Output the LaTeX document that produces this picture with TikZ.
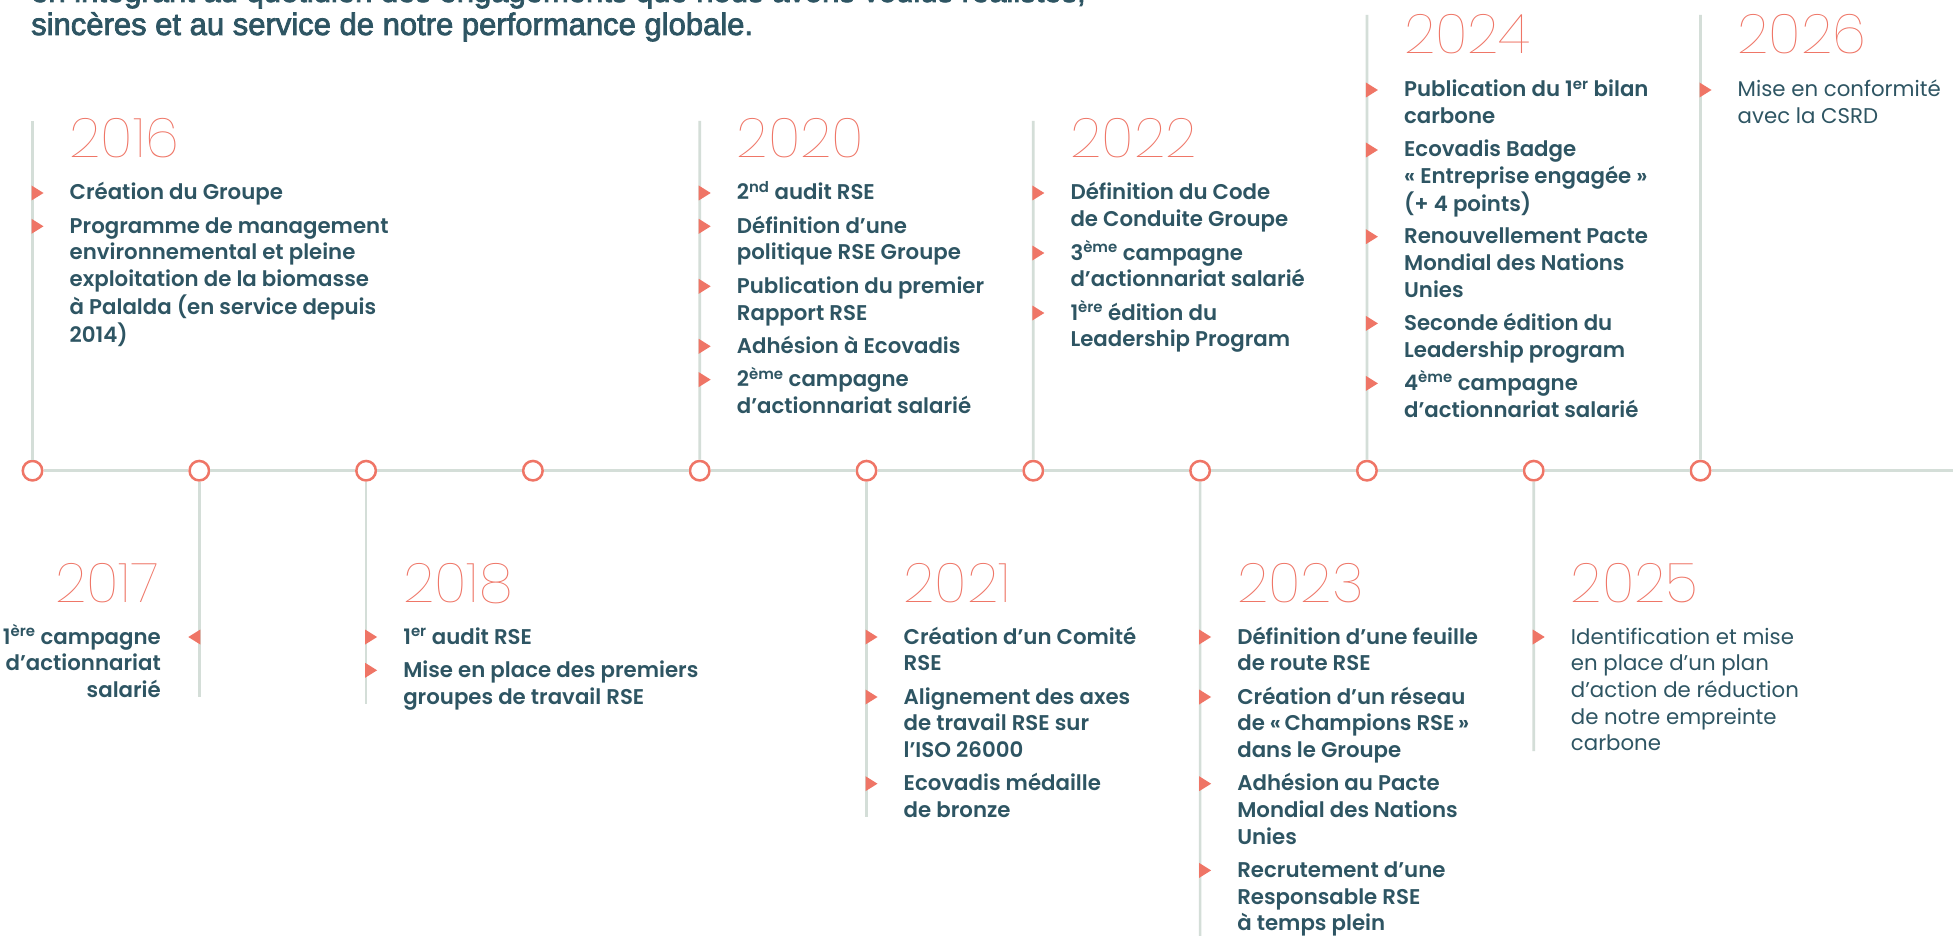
\documentclass[tikz,border=0pt]{standalone}
\usepackage{fontspec}
\newfontfamily\bodyfont{Poppins SemiBold}
\newfontfamily\regfont{Poppins}
\newfontfamily\yearfont{Poppins Thin}
\newfontfamily\headfont[FakeBold=2.5]{Liberation Sans}
\definecolor{coral}{RGB}{239,117,102}
\definecolor{ink}{RGB}{46,85,99}
\definecolor{railc}{RGB}{212,222,216}
\newcommand\lns[1]{\begin{tabular}[t]{@{}l@{}}#1\end{tabular}}
\newcommand\lnsr[1]{\begin{tabular}[t]{@{}r@{}}#1\end{tabular}}
\newcommand\sps[1]{\textsuperscript{#1}}
\tikzset{
  body/.style={font=\bodyfont\fontsize{21.3}{26.7}\selectfont, text=ink, inner sep=0pt, anchor=base west},
  bodyr/.style={body, anchor=base east},
  reg/.style={body, font=\regfont\fontsize{21.3}{26.7}\selectfont},
  yr/.style={font=\yearfont\fontsize{55}{60}\selectfont, text=coral, inner sep=0pt, anchor=base west},
  yrr/.style={yr, anchor=base east},
  head/.style={font=\headfont\fontsize{31}{36}\selectfont, text=ink, inner sep=0pt, anchor=base west},
  dot/.style={circle, draw=coral, line width=2.5pt, fill=white, minimum size=19.5pt, inner sep=0pt},
  rail/.style={draw=railc, line width=2.7pt},
  mk/.pic={\fill[coral] (-1,-7.5) -- (11,0) -- (-1,7.5) -- cycle;},
  mkl/.pic={\fill[coral] (1,-7.5) -- (-11,0) -- (1,7.5) -- cycle;},
}
\begin{document}
\begin{tikzpicture}[x=1pt,y=-1pt]
\useasboundingbox (0,0) rectangle (1953,936);
\clip (0,0) rectangle (1953,936);
\fill[white] (0,0) rectangle (1953,936);

% header
\node[head] (h1) at (31,2) {en intégrant au quotidien des engagements que nous avons voulus réalistes,};
\node[head] (h2) at (31,35) {sincères et au service de notre performance globale.};

% circles
\foreach \i in {0,...,10} {
  \node[dot] (c\i) at (32.5+166.8*\i,470.7) {};
}
\coordinate (rend) at (1953,470.7);
\draw[rail] (c0) -- (c1) -- (c2) -- (c3) -- (c4) -- (c5) -- (c6) -- (c7) -- (c8) -- (c9) -- (c10) -- (rend);

% vertical rails
\coordinate (t16) at (32.5,121);
\coordinate (t20) at (699.7,121);
\coordinate (t22) at (1033.3,121);
\coordinate (t24) at (1366.9,15);
\coordinate (t26) at (1700.5,15);
\coordinate (b17) at (199.3,697);
\coordinate (b18) at (366.1,704);
\coordinate (b21) at (866.5,817);
\coordinate (b23) at (1200.1,936);
\coordinate (b25) at (1533.7,751);
\draw[rail] (c0) -- (t16);
\draw[rail] (c4) -- (t20);
\draw[rail] (c6) -- (t22);
\draw[rail] (c8) -- (t24);
\draw[rail] (c10) -- (t26);
\draw[rail] (c1) -- (b17);
\draw[rail] (c2) -- (b18);
\draw[rail] (c5) -- (b21);
\draw[rail] (c7) -- (b23);
\draw[rail] (c9) -- (b25);

% 2016
\node[yr] (y16) at (69.5,158) {2016};
\node[body] (a16) at (69.5,200) {\lns{Création du Groupe}};
\node[body] (b16) at (69.5,233.3) {\lns{Programme de management\\environnemental et pleine\\exploitation de la biomasse\\à Palalda (en service depuis\\2014)}};
\pic at (32.5,193) {mk};
\pic at (32.5,226.3) {mk};

% 2020
\node[yr] (y20) at (736.7,158) {2020};
\node[body] (a20) at (736.7,200) {\lns{2\sps{nd} audit RSE}};
\node[body] (b20) at (736.7,233.3) {\lns{Définition d’une\\politique RSE Groupe}};
\node[body] (c20) at (736.7,293.3) {\lns{Publication du premier\\Rapport RSE}};
\node[body] (d20) at (736.7,353.3) {\lns{Adhésion à Ecovadis}};
\node[body] (e20) at (736.7,386.6) {\lns{2\sps{ème} campagne\\d’actionnariat salarié}};
\foreach \y in {200,233.3,293.3,353.3,386.6} {\pic at (699.7,\y-7) {mk};}

% 2022
\node[yr] (y22) at (1070.3,158) {2022};
\node[body] (a22) at (1070.3,200) {\lns{Définition du Code\\de Conduite Groupe}};
\node[body] (b22) at (1070.3,260) {\lns{3\sps{ème} campagne\\d’actionnariat salarié}};
\node[body] (c22) at (1070.3,320) {\lns{1\sps{ère} édition du\\Leadership Program}};
\foreach \y in {200,260,320} {\pic at (1033.3,\y-7) {mk};}

% 2024
\node[yr] (y24) at (1403.9,54) {2024};
\node[body] (a24) at (1403.9,97) {\lns{Publication du 1\sps{er} bilan\\carbone}};
\node[body] (b24) at (1403.9,157) {\lns{Ecovadis Badge\\« Entreprise engagée »\\(+ 4 points)}};
\node[body] (c24) at (1403.9,243.7) {\lns{Renouvellement Pacte\\Mondial des Nations\\Unies}};
\node[body] (d24) at (1403.9,330.4) {\lns{Seconde édition du\\Leadership program}};
\node[body] (e24) at (1403.9,390.4) {\lns{4\sps{ème} campagne\\d’actionnariat salarié}};
\foreach \y in {97,157,243.7,330.4,390.4} {\pic at (1366.9,\y-7) {mk};}

% 2026
\node[yr] (y26) at (1737.5,54) {2026};
\node[reg] (a26) at (1737.5,97) {\lns{Mise en conformité\\avec la CSRD}};
\pic at (1700.5,90) {mk};

% 2017
\node[yrr] (y17) at (159,602) {2017};
\node[bodyr] (a17) at (161,644) {\lnsr{1\sps{ère} campagne\\d’actionnariat\\salarié}};
\pic at (199.3,637) {mkl};

% 2018
\node[yr] (y18) at (403.1,602) {2018};
\node[body] (a18) at (403.1,644) {\lns{1\sps{er} audit RSE}};
\node[body] (b18n) at (403.1,677.3) {\lns{Mise en place des premiers\\groupes de travail RSE}};
\foreach \y in {644,677.3} {\pic at (366.1,\y-7) {mk};}

% 2021
\node[yr] (y21) at (903.5,602) {2021};
\node[body] (a21) at (903.5,644) {\lns{Création d’un Comité\\RSE}};
\node[body] (b21n) at (903.5,704) {\lns{Alignement des axes\\de travail RSE sur\\l’ISO 26000}};
\node[body] (c21) at (903.5,790.7) {\lns{Ecovadis médaille\\de bronze}};
\foreach \y in {644,704,790.7} {\pic at (866.5,\y-7) {mk};}

% 2023
\node[yr] (y23) at (1237.1,602) {2023};
\node[body] (a23) at (1237.1,644) {\lns{Définition d’une feuille\\de route RSE}};
\node[body] (b23n) at (1237.1,704) {\lns{Création d’un réseau\\de «\,Champions RSE\,»\\dans le Groupe}};
\node[body] (c23) at (1237.1,790.7) {\lns{Adhésion au Pacte\\Mondial des Nations\\Unies}};
\node[body] (d23) at (1237.1,877.4) {\lns{Recrutement d’une\\Responsable RSE\\à temps plein}};
\foreach \y in {644,704,790.7,877.4} {\pic at (1200.1,\y-7) {mk};}

% 2025
\node[yr] (y25) at (1570.7,602) {2025};
\node[reg] (a25) at (1570.7,644) {\lns{Identification et mise\\en place d’un plan\\d’action de réduction\\de notre empreinte\\carbone}};
\pic at (1533.7,637) {mk};
\end{tikzpicture}
\end{document}
